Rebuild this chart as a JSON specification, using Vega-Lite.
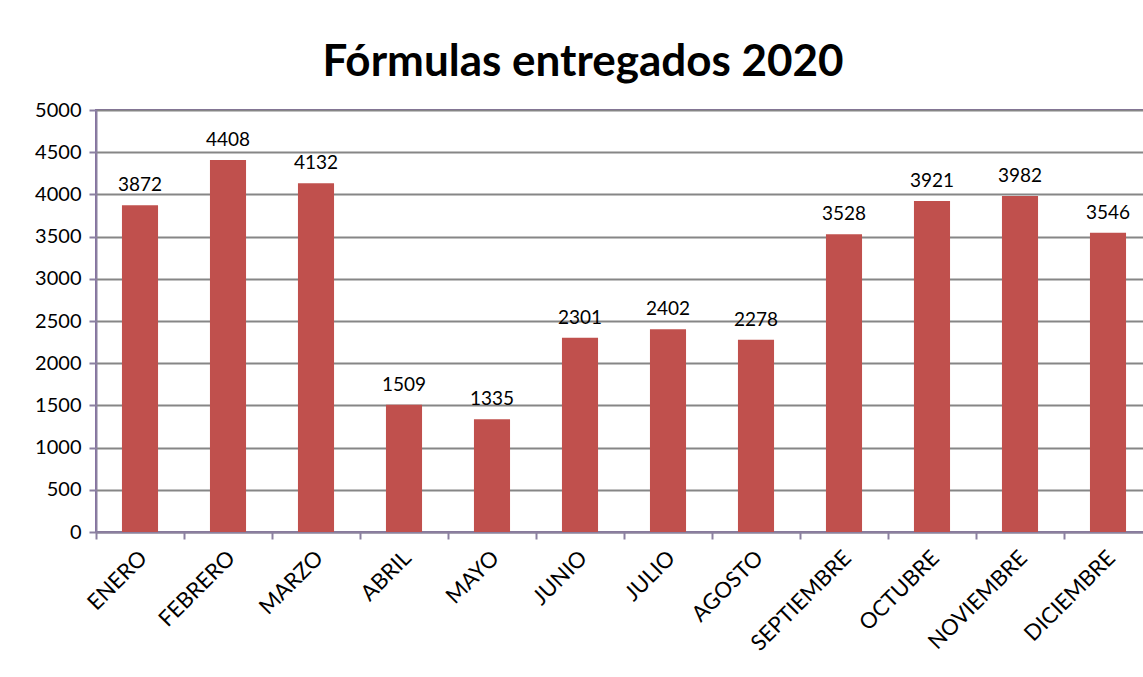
{
  "$schema": "https://vega.github.io/schema/vega-lite/v6.json",
  "autosize": {"type": "none"},
  "padding": {"left": 96, "top": 110, "right": 0, "bottom": 145},
  "width": 1056,
  "height": 422,
  "background": "white",
  "title": {
    "text": "Fórmulas entregados 2020",
    "font": "Lato",
    "fontSize": 44,
    "fontWeight": "bold",
    "color": "#000000",
    "anchor": "middle",
    "dx": -41,
    "offset": 15
  },
  "config": {
    "view": {"stroke": "#8064A2", "strokeWidth": 2},
    "axis": {"labelFont": "Lato", "labelFontSize": 20, "labelColor": "#000000"}
  },
  "data": {
    "values": [
      {"mes": "ENERO", "valor": 3872},
      {"mes": "FEBRERO", "valor": 4408},
      {"mes": "MARZO", "valor": 4132},
      {"mes": "ABRIL", "valor": 1509},
      {"mes": "MAYO", "valor": 1335},
      {"mes": "JUNIO", "valor": 2301},
      {"mes": "JULIO", "valor": 2402},
      {"mes": "AGOSTO", "valor": 2278},
      {"mes": "SEPTIEMBRE", "valor": 3528},
      {"mes": "OCTUBRE", "valor": 3921},
      {"mes": "NOVIEMBRE", "valor": 3982},
      {"mes": "DICIEMBRE", "valor": 3546}
    ]
  },
  "encoding": {
    "x": {
      "field": "mes",
      "type": "nominal",
      "sort": null,
      "scale": {"paddingInner": 0.59, "paddingOuter": 0.295},
      "axis": {
        "title": null,
        "labelAngle": -45,
        "labelAlign": "right",
        "labelBaseline": "middle",
        "labelFontSize": 22,
        "tickOffset": -44,
        "labelOffset": 47,
        "labelPadding": 15,
        "tickSize": 7,
        "tickColor": "#8B80A0",
        "tickWidth": 2,
        "domainColor": "#8B80A0",
        "domainWidth": 2,
        "grid": false
      }
    },
    "y": {
      "field": "valor",
      "type": "quantitative",
      "scale": {"domain": [0, 5000], "nice": false},
      "axis": {
        "title": null,
        "format": "d",
        "values": [0, 500, 1000, 1500, 2000, 2500, 3000, 3500, 4000, 4500, 5000],
        "tickSize": 7,
        "tickColor": "#8B80A0",
        "tickWidth": 2,
        "domainColor": "#8B80A0",
        "domainWidth": 2,
        "gridColor": "#868686",
        "gridWidth": 2,
        "labelPadding": 8
      }
    }
  },
  "layer": [
    {"mark": {"type": "bar", "color": "#C0504D"}},
    {
      "mark": {"type": "text", "font": "Lato", "fontSize": 19, "color": "#000000", "baseline": "bottom", "dy": -10},
      "encoding": {"text": {"field": "valor", "type": "quantitative", "format": "d"}}
    }
  ]
}
